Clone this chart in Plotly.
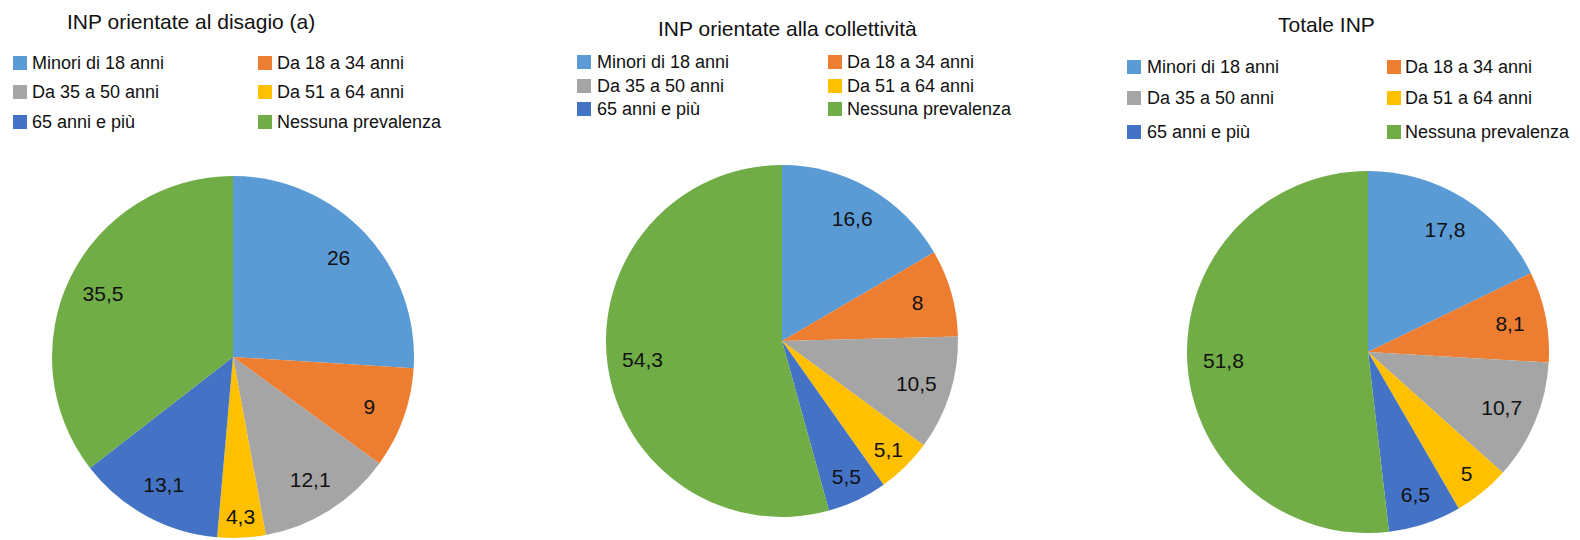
import plotly.graph_objects as go

# ---------------- data ----------------
categories = ["Minori di 18 anni", "Da 18 a 34 anni", "Da 35 a 50 anni",
              "Da 51 a 64 anni", "65 anni e più", "Nessuna prevalenza"]
titles = ["INP orientate al disagio (a)", "INP orientate alla collettività", "Totale INP"]
disagio = [26, 9, 12.1, 4.3, 13.1, 35.5]
collettivita = [16.6, 8, 10.5, 5.1, 5.5, 54.3]
totale = [17.8, 8.1, 10.7, 5, 6.5, 51.8]
series = [disagio, collettivita, totale]

colors = ["#5B9BD5", "#ED7D31", "#A5A5A5", "#FFC000", "#4472C4", "#70AD47"]

# ---------------- layout geometry (page pixels) ----------------
OFF = 8                      # default page body margin
W, H = 1580 - OFF, 540 - OFF  # figure size so that page is 1580x540
FONT = "Liberation Sans, Arial, sans-serif"
TXT = "#111111"
pies = [
    dict(cx=233, cy=357, r=181, title=(191, 22),
         sq=(13, 258), tx=(30, 275), rows=(63, 92, 122), sqs=14),
    dict(cx=782, cy=341, r=176, title=(787, 28),
         sq=(577, 828), tx=(595, 845), rows=(62, 86, 109), sqs=14),
    dict(cx=1368, cy=352, r=181, title=(1326, 25),
         sq=(1127, 1387), tx=(1145, 1403), rows=(67, 98, 132), sqs=14),
]


def px(x):
    return (x - OFF) / W


def py(y):
    return 1 - (y - OFF) / H


def fmt(v):
    return f"{v:g}".replace(".", ",")


fig = go.Figure()
shapes, annotations = [], []

for vals, g, title in zip(series, pies, titles):
    dom = dict(x=[px(g["cx"] - g["r"]), px(g["cx"] + g["r"])],
               y=[max(0, py(g["cy"] + g["r"])), py(g["cy"] - g["r"])])
    fig.add_trace(go.Pie(
        labels=categories, values=vals, sort=False, direction="clockwise",
        rotation=0, domain=dom, marker=dict(colors=colors, line=dict(width=0)),
        textinfo="none", showlegend=False, hoverinfo="label+value"))
    # transparent ring overlay carrying the data labels (pushes them outward)
    fig.add_trace(go.Pie(
        labels=categories, values=vals, sort=False, direction="clockwise",
        rotation=0, domain=dom, hole=0.6,
        marker=dict(colors=["rgba(0,0,0,0)"] * len(vals), line=dict(width=0)),
        text=[fmt(v) for v in vals], textinfo="text", textposition="inside",
        insidetextorientation="horizontal",
        textfont=dict(family=FONT, size=21, color=TXT),
        showlegend=False, hoverinfo="skip"))

    # title
    annotations.append(dict(text=title, x=px(g["title"][0]), y=py(g["title"][1]),
                            xref="paper", yref="paper", xanchor="center", yanchor="middle",
                            showarrow=False, font=dict(family=FONT, size=21, color=TXT)))
    # legend (2 columns x 3 rows)
    s = g["sqs"]
    for i, (cat, col) in enumerate(zip(categories, colors)):
        row, c = divmod(i, 2)
        yc = g["rows"][row]
        x0 = g["sq"][c]
        shapes.append(dict(type="rect", xref="paper", yref="paper",
                           x0=px(x0), x1=px(x0 + s), y0=py(yc + s / 2), y1=py(yc - s / 2),
                           fillcolor=col, line=dict(width=0)))
        annotations.append(dict(text=cat, x=px(g["tx"][c]), y=py(yc),
                                xref="paper", yref="paper", xanchor="left", yanchor="middle",
                                showarrow=False,
                                font=dict(family=FONT, size=18, color=TXT)))

fig.update_layout(width=W, height=H, margin=dict(l=0, r=0, t=0, b=0),
                  paper_bgcolor="white", plot_bgcolor="white",
                  shapes=shapes, annotations=annotations, showlegend=False)

fig.write_html("out.html")
